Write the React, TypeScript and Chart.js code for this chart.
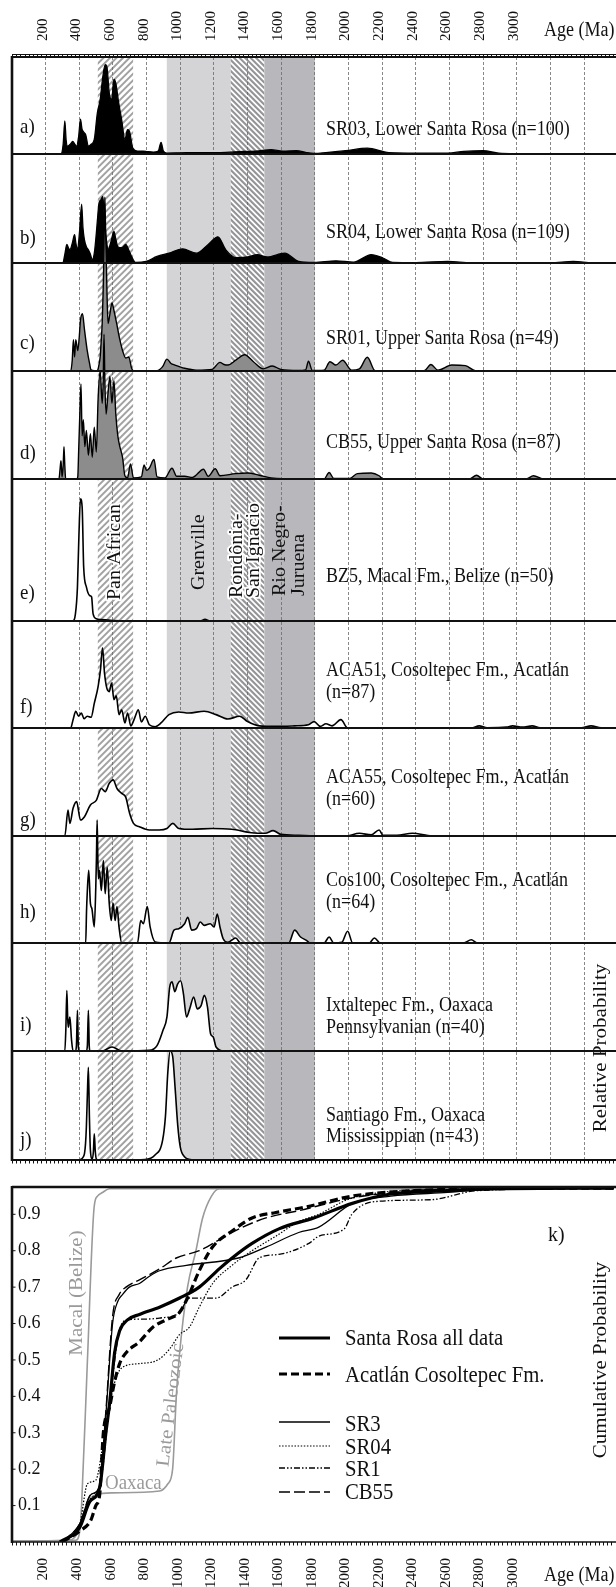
import React, { useEffect, useRef } from 'react';
import { Chart, registerables } from 'chart.js';

Chart.register(...registerables);

// ---------------- DATA ----------------
// Age axis ticks (Ma)
const tickAges = [200, 400, 600, 800, 1000, 1200, 1400, 1600, 1800, 2000, 2200, 2400, 2600, 2800, 3000, 3200, 3400];
const tickLabels = ['200', '400', '600', '800', '1000', '1200', '1400', '1600', '1800', '2000', '2200', '2400', '2600', '2800', '3000', '', ''];

// Relative probability curves (percent of panel height)
const aAge = [280, 291, 304, 314, 322, 330, 346, 361, 374, 384, 396, 407, 416, 424, 438, 454, 470, 489, 507, 524, 540, 554, 564, 578, 592, 606, 617, 634, 652, 671, 687, 699, 718, 746, 781, 804, 839, 869, 886, 900, 921, 1000, 1100, 1236, 1376, 1450, 1540, 1610, 1691, 1750, 1796, 1866, 1983, 2112, 2240, 2404, 2590, 2684, 2800, 2894, 3011, 3200, 3590];
const aProb = [0, 0, 10, 34, 14, 8, 10, 13, 10, 8, 18, 36, 26, 23, 20, 8, 10, 15, 42, 56, 80, 92, 90, 63, 56, 77, 73, 53, 35, 15, 25, 23, 6, 3, 3, 2.5, 2, 3, 12, 3, 1, 1.2, 1.5, 1.5, 2.7, 3, 4.5, 3, 3.4, 1.5, 0.7, 1.5, 3.4, 6, 1.5, 1, 1, 2.7, 3.4, 0.8, 0.3, 0.1, 0];

const bAge = [290, 302, 314, 326, 335, 344, 358, 372, 380, 389, 402, 414, 422, 431, 442, 454, 466, 477, 490, 501, 509, 517, 528, 540, 547, 554, 562, 571, 589, 606, 617, 629, 652, 676, 694, 711, 734, 797, 862, 933, 1014, 1096, 1166, 1224, 1271, 1330, 1400, 1458, 1516, 1621, 1703, 1796, 1925, 2030, 2135, 2205, 2263, 2400, 2590, 2730, 3200, 3337, 3450, 3590];
const bProb = [0, 0, 8, 17, 14, 12, 18, 26, 18, 12, 30, 54, 32, 21, 15, 12, 8, 3, 10, 27, 42, 55, 58, 61, 45, 32, 20, 12, 20, 29, 22, 15, 14, 17, 12, 6, 0.5, 1.5, 6, 9, 13, 9, 17, 24, 12, 5, 5.5, 7.6, 5.5, 9, 1.5, 0.5, 2, 0.8, 7.6, 4.6, 0.5, 0.3, 1.5, 0.2, 0.2, 1.5, 0.1, 0];

const cAge = [340, 349, 358, 365, 372, 379, 391, 399, 407, 419, 431, 447, 461, 470, 490, 508, 516, 524, 531, 536, 541, 545, 549, 552, 555, 559, 565, 571, 582, 594, 606, 622, 641, 657, 676, 694, 711, 722, 862, 895, 921, 945, 968, 1026, 1096, 1189, 1236, 1260, 1283, 1330, 1383, 1435, 1493, 1547, 1598, 1703, 1745, 1762, 1785, 1855, 1890, 1925, 1965, 2018, 2065, 2112, 2158, 2450, 2490, 2532, 2614, 2695, 2754, 3590];
const cProb = [0, 0, 10, 29, 13, 29, 19, 30, 47, 53, 38, 19, 7, 1, 0.3, 0.5, 5, 13, 30, 44, 70, 97, 140, 161, 140, 112, 70, 44, 53, 63, 56, 44, 29, 19, 12, 13, 2.5, 0.3, 0.3, 4, 11, 7, 5.5, 2.5, 0.8, 1.5, 8, 6, 5.5, 10, 15, 8.6, 2, 4.6, 1.5, 0.5, 1, 9, 0.5, 0.8, 8.6, 5.5, 10, 0.8, 2, 12.7, 0.3, 0.3, 6, 0.8, 5.5, 5, 0.2, 0];

const dAge = [270, 279, 285, 291, 295, 298, 304, 309, 314, 319, 384, 391, 396, 403, 410, 417, 424, 433, 442, 454, 466, 477, 489, 501, 512, 524, 536, 542, 547, 552, 559, 571, 582, 594, 606, 617, 629, 641, 657, 671, 687, 704, 722, 769, 785, 799, 816, 844, 862, 909, 951, 979, 1026, 1073, 1138, 1166, 1208, 1236, 1330, 1400, 1470, 1540, 1610, 1796, 1855, 1885, 1913, 2007, 2053, 2135, 2182, 2205, 2719, 2761, 2800, 3057, 3099, 3162, 3590];
const dProb = [0, 0, 8, 17, 8, 2, 12, 30, 12, 0, 0, 2, 25, 60, 88, 40, 55, 30, 45, 22, 42, 20, 48, 25, 75, 100, 70, 90, 134, 90, 60, 80, 95, 70, 91, 60, 40, 30, 20, 3, 1, 14, 1, 2, 13, 8, 10, 18, 2, 1, 10, 2.5, 2.5, 1.5, 9, 2.5, 9.5, 3, 5, 5.5, 3.5, 1, 0.3, 0.3, 0, 6, 0.5, 0.5, 5, 5.5, 3, 0, 0, 3.5, 0, 0, 3, 0, 0];

const eAge = [350, 361, 377, 389, 398, 407, 417, 426, 442, 461, 473, 482, 501, 531, 571, 606, 676, 1100, 1119, 1147, 1178, 3590];
const eProb = [0, 0, 5, 24, 61, 86, 80, 38, 24, 18, 17, 5, 1.6, 1, 0.7, 0.3, 0, 0, 0, 1.2, 0, 0];

const fAge = [340, 349, 363, 379, 396, 412, 428, 447, 470, 489, 512, 526, 538, 550, 564, 578, 592, 606, 620, 636, 652, 671, 687, 706, 729, 751, 769, 792, 816, 851, 886, 933, 991, 1050, 1143, 1213, 1283, 1353, 1400, 1470, 1563, 1680, 1762, 1796, 1832, 1866, 1902, 1955, 1995, 2730, 2777, 2824, 2940, 2975, 3034, 3092, 3139, 3384, 3442, 3501, 3590];
const fProb = [0, 0, 7.8, 15.6, 11, 14, 8.7, 11, 10, 23, 39, 54.5, 75, 51, 37, 34, 42, 26.5, 30, 12.5, 17, 4.7, 14, 2, 9.3, 17, 5.6, 11, 3, 1.2, 4.7, 12.5, 15, 14, 15.6, 12.5, 8.4, 11, 6, 2, 1.5, 2, 3, 6, 1.5, 4, 2, 7.8, 0, 0, 2, 0.3, 0.8, 2, 0.8, 2, 0.3, 0.3, 2, 0.3, 0.3];

const gAge = [305, 314, 333, 344, 363, 384, 407, 431, 466, 501, 531, 554, 578, 601, 624, 652, 676, 699, 722, 757, 816, 874, 921, 956, 991, 1073, 1189, 1306, 1423, 1505, 1552, 1598, 1703, 1796, 1983, 2065, 2135, 2182, 2205, 2287, 2380, 2497, 3590];
const gProb = [0, 0, 24, 11.7, 25.6, 31.8, 14.8, 17.9, 28.7, 33, 44, 41, 48.8, 52, 44, 39.5, 36, 21, 11.7, 8.6, 5.6, 5.6, 7, 11.7, 7, 6.2, 7, 6.2, 3, 2.5, 5, 1.5, 0.6, 0, 0, 2.5, 1, 5.6, 0.6, 0.6, 2.5, 0, 0];

const hAge = [430, 438, 443, 447, 456, 466, 475, 489, 498, 502, 506, 510, 514, 520, 531, 543, 554, 566, 578, 590, 601, 613, 624, 636, 652, 746, 765, 781, 804, 821, 851, 933, 963, 991, 1026, 1045, 1068, 1096, 1119, 1143, 1178, 1201, 1220, 1236, 1255, 1283, 1330, 1358, 1645, 1680, 1715, 1750, 1773, 1855, 1885, 1913, 1960, 1995, 2025, 2123, 2154, 2189, 2684, 2730, 2765, 3590];
const hProb = [0, 0, 30, 46, 68, 37, 32, 15, 52, 80, 115, 80, 60, 68, 49, 77, 46, 71, 37, 21, 37, 21, 34, 15, 0, 0, 21, 18, 34, 15, 1, 0, 12, 13.4, 18, 24, 12, 13.4, 19.6, 16.5, 18, 15, 27, 15, 4, 0.6, 4.7, 0, 0, 12, 5.6, 2.5, 0, 0, 5.6, 0, 0.6, 11, 0, 0, 4.7, 0, 0, 3, 0, 0];

const iAge = [305, 314, 320, 326, 331, 335, 340, 344, 354, 363, 377, 383, 389, 394, 398, 442, 448, 454, 459, 463, 536, 594, 652, 816, 862, 897, 921, 937, 951, 968, 984, 1002, 1019, 1037, 1056, 1080, 1101, 1124, 1143, 1162, 1180, 1196, 1213, 1260, 3590];
const iProb = [0, 0, 20, 56, 30, 22, 28, 31.5, 10, 0, 0, 5, 37.7, 5, 0, 0, 5, 37.7, 5, 0, 0, 3.7, 0, 0.6, 5, 19, 31.5, 59, 64, 55, 62, 65, 53, 31.5, 39, 50, 39, 42, 51.5, 40.7, 16, 13, 3.7, 0, 0];

const jAge = [400, 420, 431, 437, 442, 448, 454, 460, 466, 477, 484, 489, 495, 501, 512, 790, 850, 895, 912, 926, 940, 955, 970, 985, 1000, 1025, 1060, 1090, 3590];
const jProb = [0, 2, 6, 15, 30, 60, 85, 40, 9, 1, 8, 24, 8, 1, 0, 0.5, 4.6, 18, 40, 80, 100, 95, 65, 32, 12, 3, 0.5, 0, 0];

const panelLetters = ['a)', 'b)', 'c)', 'd)', 'e)', 'f)', 'g)', 'h)', 'i)', 'j)'];
const panelTitles = [
  ['SR03, Lower Santa Rosa (n=100)'],
  ['SR04, Lower Santa Rosa (n=109)'],
  ['SR01, Upper Santa Rosa (n=49)'],
  ['CB55, Upper Santa Rosa (n=87)'],
  ['BZ5, Macal Fm., Belize (n=50)'],
  ['ACA51, Cosoltepec Fm., Acatlán', '(n=87)'],
  ['ACA55, Cosoltepec Fm., Acatlán', '(n=60)'],
  ['Cos100, Cosoltepec Fm., Acatlán', '(n=64)'],
  ['Ixtaltepec Fm., Oaxaca', 'Pennsylvanian (n=40)'],
  ['Santiago Fm., Oaxaca', 'Mississippian (n=43)'],
];

// Orogenic age bands (Ma)
const bandLabels = [['Pan African'], ['Grenville'], ['Rondônia-', 'San Ignacio'], ['Rio Negro-', 'Juruena']];
const bandStart = [510, 920, 1300, 1500];
const bandEnd = [720, 1300, 1500, 1800];

// Cumulative probability curves
const srAllAge = [285, 404, 463, 523, 560, 582, 612, 642, 689, 760, 880, 1000, 1117, 1236, 1313, 1432, 1592, 1800, 2030, 2250, 2600, 2850, 3590];
const srAllCum = [0, 0.04, 0.11, 0.15, 0.3, 0.38, 0.52, 0.58, 0.61, 0.625, 0.645, 0.67, 0.70, 0.75, 0.78, 0.82, 0.86, 0.89, 0.93, 0.955, 0.965, 0.97, 0.972];
const acaAge = [300, 404, 470, 500, 523, 545, 582, 612, 642, 681, 760, 840, 919, 998, 1047, 1117, 1196, 1315, 1432, 1574, 1750, 2030, 2400, 2800, 3590];
const acaCum = [0, 0.03, 0.06, 0.1, 0.13, 0.3, 0.37, 0.44, 0.49, 0.52, 0.55, 0.59, 0.61, 0.63, 0.67, 0.745, 0.81, 0.855, 0.89, 0.905, 0.92, 0.95, 0.965, 0.97, 0.972];
const sr3Age = [300, 404, 470, 520, 560, 600, 630, 660, 700, 760, 820, 880, 1040, 1350, 1515, 1710, 1830, 2030, 2260, 2600, 2900, 3590];
const sr3Cum = [0, 0.05, 0.13, 0.15, 0.35, 0.6, 0.66, 0.68, 0.70, 0.71, 0.73, 0.745, 0.76, 0.78, 0.81, 0.85, 0.865, 0.93, 0.95, 0.96, 0.97, 0.972];
const sr04Age = [290, 404, 450, 500, 540, 580, 620, 660, 760, 870, 940, 1000, 1058, 1117, 1197, 1313, 1432, 1574, 1711, 1830, 2000, 2200, 2600, 3590];
const sr04Cum = [0, 0.05, 0.16, 0.17, 0.26, 0.37, 0.45, 0.48, 0.49, 0.5, 0.53, 0.57, 0.59, 0.645, 0.71, 0.76, 0.80, 0.84, 0.88, 0.9, 0.94, 0.96, 0.968, 0.972];
const sr1Age = [300, 404, 470, 523, 582, 640, 689, 760, 879, 998, 1058, 1218, 1313, 1395, 1474, 1592, 1771, 1830, 1982, 2027, 2167, 2497, 2775, 3590];
const sr1Cum = [0, 0.04, 0.12, 0.15, 0.38, 0.58, 0.61, 0.612, 0.615, 0.63, 0.67, 0.67, 0.70, 0.72, 0.78, 0.79, 0.82, 0.84, 0.86, 0.90, 0.935, 0.94, 0.965, 0.972];
const cb55Age = [300, 404, 470, 520, 560, 600, 640, 680, 760, 880, 980, 1117, 1236, 1355, 1515, 1710, 2030, 2400, 2800, 3590];
const cb55Cum = [0, 0.05, 0.13, 0.15, 0.36, 0.62, 0.68, 0.70, 0.72, 0.75, 0.78, 0.80, 0.83, 0.86, 0.89, 0.91, 0.945, 0.965, 0.97, 0.972];
const macalAge = [0, 380, 404, 415, 450, 490, 510, 540, 582, 3590];
const macalCum = [0.003, 0.005, 0.03, 0.1, 0.5, 0.92, 0.95, 0.96, 0.97, 0.97];
const latePzAge = [0, 330, 386, 422, 470, 503, 600, 880, 930, 958, 980, 998, 1047, 1097, 1137, 1190, 1236, 3590];
const latePzCum = [0.003, 0.005, 0.02, 0.07, 0.12, 0.13, 0.135, 0.14, 0.16, 0.2, 0.4, 0.51, 0.7, 0.8, 0.89, 0.95, 0.97, 0.97];

const kTicks = [0.1, 0.2, 0.3, 0.4, 0.5, 0.6, 0.7, 0.8, 0.9];
const kLegendNames = ['Santa Rosa all data', 'Acatlán Cosoltepec Fm.', 'SR3', 'SR04', 'SR1', 'CB55'];

// ---------------- LAYOUT / STYLE ----------------
const W = 616;
const AGE_MIN = 0;
const AGE_MAX = 3590;
const LEFT = 12;
const EDGES = [57, 154, 263, 371, 479, 621, 728, 836, 943, 1051, 1160];
const AREA_TOP = EDGES[0];
const AREA_BOTTOM = EDGES[EDGES.length - 1];
const TOP_H = 1165;
const K_OFF = 1165;
const K_H = 1587 - K_OFF;
const FONT = '"Liberation Serif", "Times New Roman", serif';
const TICK_FONT = { family: FONT, size: 15, lineHeight: 1.2 };

const panelFill = ['#000', '#000', '#8c8c8c', '#8c8c8c', '#fff', '#fff', '#fff', '#fff', '#fff', '#fff'];
const panelLine = [1.3, 1.3, 1.4, 1.4, 1.6, 1.6, 1.6, 1.6, 1.6, 1.6];
const letterY = [133, 244, 349, 459, 599, 713, 826, 918, 1031, 1146];
const titleY = [[135], [238], [344], [448], [582], [676, 698], [783, 805], [886, 908], [1011, 1033], [1121, 1142]];

const bandStyle = [
  { kind: 'hatch', dir: 1, color: '#a2a2a2', spacing: 6.5 },
  { kind: 'fill', color: '#d4d4d7' },
  { kind: 'hatch', dir: -1, color: '#959599', spacing: 5.5 },
  { kind: 'fill', color: '#b8b8bc' },
];
const bandText = [
  { xs: [115], y: 600, halo: true },
  { xs: [199], y: 590, halo: false },
  { xs: [237, 254], y: 598, halo: true },
  { xs: [280, 299], y: 596, halo: false },
];

const kStyles = [
  { color: '#000', width: 3.2, dash: [] as number[] },
  { color: '#000', width: 3.2, dash: [8, 4] },
  { color: '#000', width: 1.3, dash: [] as number[] },
  { color: '#000', width: 1.2, dash: [1.5, 1.6] },
  { color: '#000', width: 1.3, dash: [6, 2, 1.5, 2, 1.5, 2] },
  { color: '#000', width: 1.4, dash: [11, 4] },
];
const legendLineY = [1338, 1374, 1422, 1446, 1468, 1492];
const legendTextY = [1345, 1382, 1431, 1454, 1476, 1499];
const GRAY = '#9a9a9a';

// ---------------- helpers ----------------
function seg(ctx: CanvasRenderingContext2D, x0: number, y0: number, x1: number, y1: number) {
  ctx.beginPath();
  ctx.moveTo(x0, y0);
  ctx.lineTo(x1, y1);
  ctx.stroke();
}

function drawText(ctx: CanvasRenderingContext2D, s: string, x: number, y: number, o: any) {
  ctx.save();
  ctx.translate(x, y);
  const sq = o.squeeze ?? 0.9;
  if (o.rot) {
    ctx.rotate(o.rot);
    ctx.scale(1, sq);
  } else {
    ctx.scale(sq, 1);
  }
  ctx.font = `${o.size}px ${FONT}`;
  ctx.textAlign = o.align || 'left';
  ctx.textBaseline = o.baseline || 'alphabetic';
  if (o.halo) {
    ctx.strokeStyle = '#fff';
    ctx.lineWidth = 4;
    ctx.lineJoin = 'round';
    ctx.strokeText(s, 0, 0);
  }
  ctx.fillStyle = o.color || '#111';
  ctx.fillText(s, 0, 0);
  ctx.restore();
}

function hatch(ctx: CanvasRenderingContext2D, x0: number, x1: number, y0: number, y1: number, spacing: number, color: string, dir: number) {
  ctx.save();
  ctx.beginPath();
  ctx.rect(x0, y0, x1 - x0, y1 - y0);
  ctx.clip();
  ctx.fillStyle = '#fff';
  ctx.fillRect(x0, y0, x1 - x0, y1 - y0);
  ctx.strokeStyle = color;
  ctx.lineWidth = 2;
  const h = y1 - y0;
  ctx.beginPath();
  for (let s = x0 - h - spacing; s < x1 + h + spacing; s += spacing) {
    if (dir > 0) {
      ctx.moveTo(s, y1);
      ctx.lineTo(s + h, y0);
    } else {
      ctx.moveTo(s, y0);
      ctx.lineTo(s + h, y1);
    }
  }
  ctx.stroke();
  ctx.restore();
}

// ---------------- plugins ----------------
const topPlugin = {
  id: 'topDecor',
  beforeDraw(chart: any) {
    const { ctx } = chart;
    const xs = chart.scales.x;
    ctx.save();
    ctx.fillStyle = '#fff';
    ctx.fillRect(0, 0, chart.width, chart.height);
    bandStart.forEach((b, i) => {
      const x0 = xs.getPixelForValue(b);
      const x1 = xs.getPixelForValue(bandEnd[i]);
      const st = bandStyle[i];
      if (st.kind === 'fill') {
        ctx.fillStyle = st.color;
        ctx.fillRect(x0, AREA_TOP, x1 - x0, AREA_BOTTOM - AREA_TOP);
      } else {
        hatch(ctx, x0, x1, AREA_TOP, AREA_BOTTOM, st.spacing as number, st.color, st.dir as number);
      }
    });
    ctx.restore();
  },
  afterDatasetsDraw(chart: any) {
    const { ctx } = chart;
    const xs = chart.scales.x;
    ctx.save();
    ctx.strokeStyle = '#111';
    ctx.lineWidth = 2.2;
    EDGES.forEach((y) => seg(ctx, LEFT, y, W, y));
    ctx.lineWidth = 2.6;
    seg(ctx, LEFT, AREA_TOP - 1, LEFT, AREA_BOTTOM + 1);
    ctx.lineWidth = 1;
    seg(ctx, LEFT, 54.5, W, 54.5);
    for (let v = AGE_MIN; v <= AGE_MAX; v += 25) {
      const x = Math.round(xs.getPixelForValue(v)) + 0.5;
      seg(ctx, x, 54.5, x, 57);
      seg(ctx, x, AREA_BOTTOM, x, AREA_BOTTOM + 3.5);
    }
    panelLetters.forEach((l, i) => {
      drawText(ctx, l, 20, letterY[i], { size: 21 });
      panelTitles[i].forEach((t, k) => drawText(ctx, t, 326, titleY[i][k], { size: 20 }));
    });
    bandLabels.forEach((lines, i) => {
      lines.forEach((t, k) => {
        drawText(ctx, t, bandText[i].xs[k], bandText[i].y, {
          size: 20, rot: -Math.PI / 2, align: 'left', baseline: 'middle', halo: bandText[i].halo,
        });
      });
    });
    drawText(ctx, 'Age (Ma)', 544, 36, { size: 20 });
    drawText(ctx, 'Relative Probability', 601, 1048, { size: 21, rot: -Math.PI / 2, align: 'center', baseline: 'middle' });
    ctx.restore();
  },
};

const kPlugin = {
  id: 'kDecor',
  beforeDraw(chart: any) {
    const { ctx } = chart;
    ctx.save();
    ctx.fillStyle = '#fff';
    ctx.fillRect(0, 0, chart.width, chart.height);
    ctx.restore();
  },
  afterDatasetsDraw(chart: any) {
    const { ctx, chartArea: ca } = chart;
    const xs = chart.scales.x;
    const ys = chart.scales.y;
    ctx.save();
    ctx.strokeStyle = '#111';
    ctx.lineWidth = 2.6;
    seg(ctx, ca.left, ca.top, W, ca.top);
    seg(ctx, ca.left, ca.top - 1, ca.left, ca.bottom + 1);
    ctx.lineWidth = 1.5;
    seg(ctx, ca.left, ca.bottom, W, ca.bottom);
    ctx.lineWidth = 1;
    for (let v = AGE_MIN; v <= AGE_MAX; v += 25) {
      const x = Math.round(xs.getPixelForValue(v)) + 0.5;
      seg(ctx, x, ca.bottom, x, ca.bottom + 3.5);
    }
    kTicks.forEach((v) => {
      const y = ys.getPixelForValue(v);
      seg(ctx, ca.left, y, ca.left + 3.5, y);
    });
    kLegendNames.forEach((name, i) => {
      const st = kStyles[i];
      ctx.save();
      ctx.strokeStyle = st.color;
      ctx.lineWidth = st.width;
      ctx.setLineDash(st.dash);
      seg(ctx, 279, legendLineY[i] - K_OFF, 330, legendLineY[i] - K_OFF);
      ctx.restore();
      drawText(ctx, name, 345, legendTextY[i] - K_OFF, { size: 23 });
    });
    drawText(ctx, 'Macal (Belize)', 77, 1293 - K_OFF, { size: 21, rot: -Math.PI / 2, align: 'center', baseline: 'middle', color: GRAY });
    drawText(ctx, 'Late Paleozoic', 171, 1405 - K_OFF, { size: 21, rot: -(83 * Math.PI) / 180, align: 'center', baseline: 'middle', color: GRAY });
    drawText(ctx, 'Oaxaca', 105, 1489 - K_OFF, { size: 21, color: GRAY });
    drawText(ctx, 'k)', 548, 1241 - K_OFF, { size: 22 });
    drawText(ctx, 'Cumulative Probability', 601, 1360 - K_OFF, { size: 21, rot: -Math.PI / 2, align: 'center', baseline: 'middle' });
    drawText(ctx, 'Age (Ma)', 544, 1581 - K_OFF, { size: 20 });
    ctx.restore();
  },
};

// ---------------- configs ----------------
function topConfig(): any {
  const panels = [
    [aAge, aProb], [bAge, bProb], [cAge, cProb], [dAge, dProb], [eAge, eProb],
    [fAge, fProb], [gAge, gProb], [hAge, hProb], [iAge, iProb], [jAge, jProb],
  ];
  const scales: any = {
    x: {
      type: 'linear',
      position: 'top',
      min: AGE_MIN,
      max: AGE_MAX,
      afterBuildTicks: (s: any) => { s.ticks = tickAges.map((v) => ({ value: v })); },
      afterFit: (s: any) => { s.height = AREA_TOP; },
      ticks: {
        autoSkip: false,
        minRotation: 90,
        maxRotation: 90,
        padding: 16,
        labelOffset: 15,
        color: '#111',
        font: TICK_FONT,
        callback: (_v: any, i: number) => tickLabels[i],
      },
      grid: { display: true, drawTicks: false, color: '#6a6a6a', lineWidth: 0.8 },
      border: { display: false, dash: [3, 2] },
    },
  };
  panels.forEach((_p, i) => {
    const top = EDGES[i];
    const base = EDGES[i + 1];
    const h = base - top;
    const min = -((AREA_BOTTOM - base) / h) * 100;
    const max = min + ((AREA_BOTTOM - AREA_TOP) / h) * 100;
    scales['p' + i] = { type: 'linear', axis: 'y', position: 'left', display: false, min, max };
  });
  const datasets = panels.map(([ages, probs], i) => ({
    label: panelLetters[i],
    data: ages.map((a, k) => ({ x: a, y: probs[k] })),
    xAxisID: 'x',
    yAxisID: 'p' + i,
    borderColor: '#000',
    borderWidth: panelLine[i],
    backgroundColor: panelFill[i],
    fill: 'origin',
    pointRadius: 0,
    cubicInterpolationMode: 'monotone',
    clip: false,
    order: 10 - i,
  }));
  return {
    type: 'line',
    data: { datasets },
    options: {
      animation: false,
      responsive: false,
      maintainAspectRatio: false,
      devicePixelRatio: 1,
      layout: { padding: { left: LEFT, right: 0, top: 0, bottom: TOP_H - AREA_BOTTOM } },
      plugins: { legend: { display: false }, tooltip: { enabled: false } },
      events: [],
      scales,
    },
    plugins: [topPlugin],
  };
}

function kConfig(): any {
  const series = [
    [srAllAge, srAllCum], [acaAge, acaCum], [sr3Age, sr3Cum], [sr04Age, sr04Cum], [sr1Age, sr1Cum], [cb55Age, cb55Cum],
  ];
  const datasets: any[] = series.map(([ages, cums], i) => ({
    label: kLegendNames[i],
    data: ages.map((a, k) => ({ x: a, y: cums[k] })),
    borderColor: kStyles[i].color,
    borderWidth: kStyles[i].width,
    borderDash: kStyles[i].dash,
    fill: false,
    pointRadius: 0,
    cubicInterpolationMode: 'monotone',
  }));
  datasets.push({
    label: 'Late Paleozoic',
    data: latePzAge.map((a, k) => ({ x: a, y: latePzCum[k] })),
    borderColor: GRAY, borderWidth: 1.6, fill: false, pointRadius: 0, cubicInterpolationMode: 'monotone',
  });
  datasets.push({
    label: 'Macal (Belize)',
    data: macalAge.map((a, k) => ({ x: a, y: macalCum[k] })),
    borderColor: GRAY, borderWidth: 1.6, fill: false, pointRadius: 0, cubicInterpolationMode: 'monotone',
  });
  const kTop = 1187 - K_OFF;
  const kBottom = 1542 - K_OFF;
  return {
    type: 'line',
    data: { datasets },
    options: {
      animation: false,
      responsive: false,
      maintainAspectRatio: false,
      devicePixelRatio: 1,
      layout: { padding: { left: LEFT, right: 0, top: kTop, bottom: 0 } },
      plugins: { legend: { display: false }, tooltip: { enabled: false } },
      events: [],
      scales: {
        x: {
          type: 'linear',
          position: 'bottom',
          min: AGE_MIN,
          max: AGE_MAX,
          afterBuildTicks: (s: any) => { s.ticks = tickAges.map((v) => ({ value: v })); },
          afterFit: (s: any) => { s.height = K_H - kBottom; },
          ticks: {
            autoSkip: false,
            minRotation: 90,
            maxRotation: 90,
            padding: 16,
            labelOffset: -2,
            color: '#111',
            font: TICK_FONT,
            callback: (_v: any, i: number) => tickLabels[i],
          },
          grid: { display: false, drawTicks: false },
          border: { display: false },
        },
        y: {
          type: 'linear',
          position: 'left',
          min: 0,
          max: 0.975,
          afterBuildTicks: (s: any) => { s.ticks = kTicks.map((v) => ({ value: v })); },
          afterFit: (s: any) => { s.width = 0; },
          ticks: {
            mirror: true,
            padding: 6,
            color: '#111',
            font: { family: FONT, size: 18 },
            callback: (v: any) => Number(v).toFixed(1),
          },
          grid: { display: false, drawTicks: false },
          border: { display: false },
        },
      },
    },
    plugins: [kPlugin],
  };
}

export default function App() {
  const topRef = useRef<HTMLCanvasElement>(null);
  const kRef = useRef<HTMLCanvasElement>(null);
  useEffect(() => {
    const c1 = new Chart(topRef.current as HTMLCanvasElement, topConfig());
    const c2 = new Chart(kRef.current as HTMLCanvasElement, kConfig());
    return () => {
      c1.destroy();
      c2.destroy();
    };
  }, []);
  return (
    <div style={{ position: 'absolute', left: 0, top: 0, width: W, height: 1587, background: '#fff', overflow: 'hidden' }}>
      <canvas ref={topRef} width={W} height={TOP_H} style={{ position: 'absolute', left: 0, top: 0, width: W, height: TOP_H }} />
      <canvas ref={kRef} width={W} height={K_H} style={{ position: 'absolute', left: 0, top: K_OFF, width: W, height: K_H }} />
    </div>
  );
}
